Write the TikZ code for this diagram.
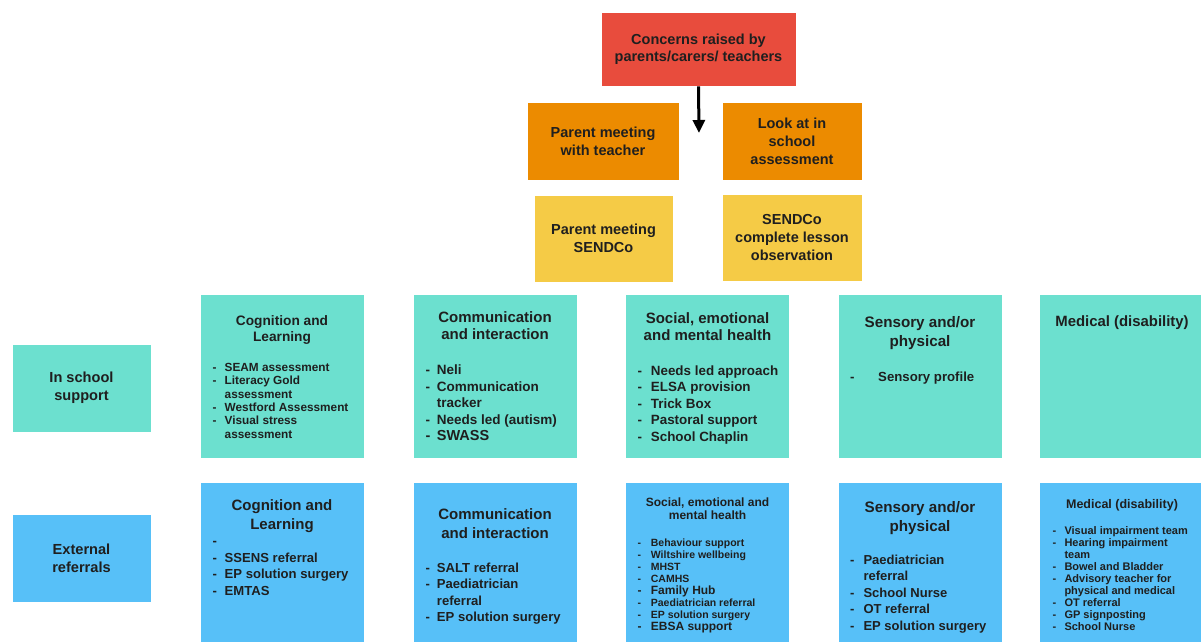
\documentclass[tikz,border=0pt]{standalone}
\usepackage{fontspec}
\setmainfont{Liberation Sans}
\usetikzlibrary{arrows.meta}

\definecolor{concernred}{RGB}{232,76,61}
\definecolor{meetorange}{RGB}{236,139,0}
\definecolor{sendyellow}{RGB}{245,203,70}
\definecolor{schoolteal}{RGB}{108,224,207}
\definecolor{extblue}{RGB}{87,192,248}

\newcommand{\fsz}[2]{\fontsize{#1}{#2}\selectfont\bfseries}
\newcommand{\ttl}[1]{\begin{tabular}[t]{@{}c@{}}#1\end{tabular}}
\newcommand{\dlist}[2]{\begin{tabular}[t]{@{}p{#1pt}@{}l@{}}#2\end{tabular}}

\begin{document}
\begin{tikzpicture}
            [
                x=1pt, y=-1pt,
                box/.style={rectangle, draw=white, line width=0.6pt, inner sep=2pt, align=center, text=black!88},
                concern/.style={box, fill=concernred, minimum width=195, minimum height=74, font=\fsz{14.5}{17.5}},
                meeting/.style={box, fill=meetorange, minimum height=78, font=\fsz{14.5}{18}},
                sendco/.style={box, fill=sendyellow, minimum height=87, font=\fsz{14.5}{18}},
                rowname/.style={box, minimum width=139, minimum height=88, font=\fsz{14.6}{18}},
                area/.style={box, minimum width=164, minimum height=164},
                heading/.style={inner sep=0pt, anchor=base, text=black!88},
                items/.style={inner sep=0pt, anchor=base west, text=black!88}
            ]
            \useasboundingbox (0,0) rectangle (1201,641);
            %nodes
            \node[concern] at (698.5,49)                    (concerns)          {Concerns raised by\\parents/carers/ teachers};
            \node[meeting, minimum width=152] at (603,141)  (teacher_meet)      {Parent meeting\\with teacher};
            \node[meeting, minimum width=140] at (792,141)  (school_assess)     {Look at in\\school\\assessment};
            \node[sendco, minimum width=139] at (603.5,238.5) (sendco_meet)     {Parent meeting\\SENDCo};
            \node[sendco, minimum width=140] at (792,237.5) (sendco_obs)        {SENDCo\\complete lesson\\observation};
            \coordinate (arrow_end) at (699,133);

            \node[rowname, fill=schoolteal] at (81.5,388)   (in_school)         {In school\\support};
            \node[rowname, fill=extblue] at (81.5,558.5)    (external)          {External\\referrals};

            \node[area, fill=schoolteal] at (282,376)       (cog_school)        {};
            \node[area, fill=schoolteal] at (495,376)       (comm_school)       {};
            \node[area, fill=schoolteal] at (707.5,376)     (social_school)     {};
            \node[area, fill=schoolteal] at (920,376)       (sensory_school)    {};
            \node[area, fill=schoolteal] at (1121,376)      (medical_school)    {};
            \node[area, fill=extblue] at (282,564)          (cog_ext)           {};
            \node[area, fill=extblue] at (495,564)          (comm_ext)          {};
            \node[area, fill=extblue] at (707.5,564)        (social_ext)        {};
            \node[area, fill=extblue] at (920,564)          (sensory_ext)       {};
            \node[area, fill=extblue] at (1121,564)         (medical_ext)       {};

            %in school texts
            \node[heading, font=\fsz{13.7}{16}] at (282,325.5)   (cog_school_head)     {\ttl{Cognition and\\Learning}};
            \node[items, font=\fsz{11.8}{13.3}] at (212.5,371.5) (cog_school_list)     {\dlist{12}{- & SEAM assessment\\- & Literacy Gold\\ & assessment\\- & Westford Assessment\\- & Visual stress\\ & assessment}};
            \node[heading, font=\fsz{15}{17}] at (495,322)       (comm_school_head)    {\ttl{Communication\\and interaction}};
            \node[items, font=\fsz{13.5}{16.6}] at (425.3,374.5) (comm_school_list)    {\dlist{11.4}{- & Neli\\- & Communication\\ & tracker\\- & Needs led (autism)\\\fsz{14.5}{16.6}- & \fsz{14.5}{16.6}SWASS}};
            \node[heading, font=\fsz{15}{17}] at (707.5,323)     (social_school_head)  {\ttl{Social, emotional\\and mental health}};
            \node[items, font=\fsz{13.4}{16.5}] at (637.3,375.4) (social_school_list)  {\dlist{13.4}{- & Needs led approach\\- & ELSA provision\\- & Trick Box\\- & Pastoral support\\- & School Chaplin}};
            \node[heading, font=\fsz{15.2}{19}] at (920,327)     (sensory_school_head) {\ttl{Sensory and/or\\physical}};
            \node[items, font=\fsz{13.2}{16}] at (850,381)       (sensory_school_list) {\dlist{28}{- & Sensory profile}};
            \node[heading, font=\fsz{14.9}{17}] at (1122,326)    (medical_school_head) {\ttl{Medical (disability)}};

            %external texts
            \node[heading, font=\fsz{15}{19}] at (282,510)       (cog_ext_head)        {\ttl{Cognition and\\Learning}};
            \node[items, font=\fsz{13.1}{16.7}] at (212.5,545.3) (cog_ext_list)        {\dlist{12}{- & \\- & SSENS referral\\- & EP solution surgery\\- & EMTAS}};
            \node[heading, font=\fsz{15}{19}] at (495,519)       (comm_ext_head)       {\ttl{Communication\\and interaction}};
            \node[items, font=\fsz{13.1}{16.5}] at (425.3,572.3) (comm_ext_list)       {\dlist{11.4}{- & SALT referral\\- & Paediatrician\\ & referral\\- & EP solution surgery}};
            \node[heading, font=\fsz{12}{13}] at (707.5,506)     (social_ext_head)     {\ttl{Social, emotional and\\mental health}};
            \node[items, font=\fsz{10.5}{12.1}] at (637.3,546)   (social_ext_list)     {\dlist{13.4}{- & Behaviour support\\- & Wiltshire wellbeing\\- & MHST\\- & CAMHS\\\fsz{12}{13.5}- & \fsz{12}{13.5}Family Hub\\- & Paediatrician referral\\- & EP solution surgery\\\fsz{12}{13.5}- & \fsz{12}{13.5}EBSA support}};
            \node[heading, font=\fsz{15.2}{19}] at (920,512)     (sensory_ext_head)    {\ttl{Sensory and/or\\physical}};
            \node[items, font=\fsz{13}{16.5}] at (850,564.3)     (sensory_ext_list)    {\dlist{13.3}{- & Paediatrician\\ & referral\\- & School Nurse\\- & OT referral\\- & EP solution surgery}};
            \node[heading, font=\fsz{12.5}{14}] at (1122,508)    (medical_ext_head)    {\ttl{Medical (disability)}};
            \node[items, font=\fsz{11}{12.1}] at (1052.3,534)    (medical_ext_list)    {\dlist{12}{- & Visual impairment team\\- & Hearing impairment\\ & team\\- & Bowel and Bladder\\- & Advisory teacher for\\ & physical and medical\\- & OT referral\\- & GP signposting\\- & School Nurse}};
            %arrows
            \draw[line width=3pt, -{Triangle[width=12pt, length=13pt]}] (concerns.south) -- (arrow_end);
        \end{tikzpicture}
\end{document}
